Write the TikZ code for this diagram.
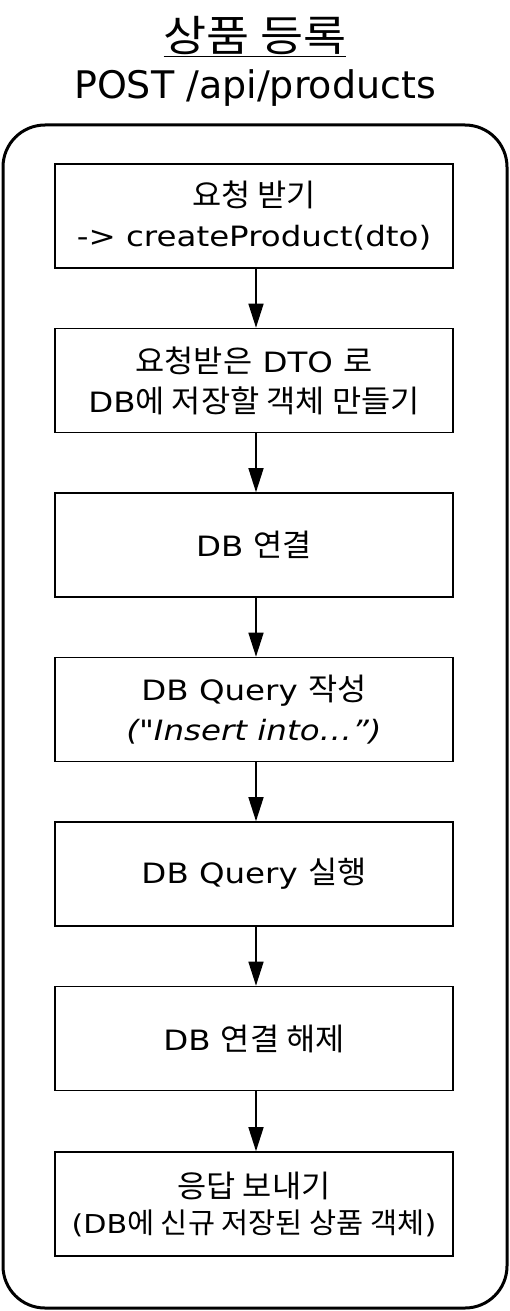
\documentclass[tikz,border=0pt]{standalone}
\usepackage{fontspec}
\setmainfont{DejaVu Sans}
\newfontfamily\wide[FakeStretch=1.16]{DejaVu Sans}
\newfontfamily\kr[Scale=1.1,FakeStretch=1.03]{Noto Sans CJK KR}
\newfontfamily\krt[Scale=1.12,FakeStretch=1.1]{Noto Sans CJK KR}
\usetikzlibrary{arrows.meta}
\tikzset{
  stepbox/.style={draw, line width=1.6pt, minimum width=398pt, minimum height=104pt, align=center, inner sep=0pt,
    font=\wide\fontsize{28}{40}\selectfont},
  flow/.style={line width=1.5pt, -{Triangle[length=24pt,width=15pt]}},
}
\begin{document}
\begin{tikzpicture}[x=1pt,y=-1pt]
\useasboundingbox (0,0) rectangle (510,1311);
\node[font=\fontsize{38}{40}\selectfont] (title) at (255,37) {\underline{\krt 상품 등록}};
\node[font=\fontsize{38}{40}\selectfont] (api) at (255,88) {POST /api/products};
\draw[line width=3pt, rounded corners=42pt] (3,125) rectangle (507,1308);
\node[stepbox] (b1) at (254,216) {{\kr 요청 받기}\\-> createProduct(dto)};
\node[stepbox] (b2) at (254,380.5) {{\kr 요청받은} DTO {\kr 로}\\DB{\kr 에 저장할 객체 만들기}};
\node[stepbox] (b3) at (254,545) {DB {\kr 연결}};
\node[stepbox] (b4) at (254,709.5) {DB Query {\kr 작성}\\\textit{(\symbol{34}Insert into…”)}};
\node[stepbox] (b5) at (254,874) {DB Query {\kr 실행}};
\node[stepbox] (b6) at (254,1038.5) {DB {\kr 연결 해제}};
\node[stepbox, font=\wide\fontsize{28}{36}\selectfont] (b7) at (254,1204) {{\kr 응답 보내기}\\{\fontsize{26}{36}\selectfont(DB{\kr 에 신규 저장된 상품 객체})}};
\foreach \a/\b in {b1/b2,b2/b3,b3/b4,b4/b5,b5/b6,b6/b7}
  \draw[flow] ([xshift=2pt]\a.south) -- ([xshift=2pt]\b.north);
\end{tikzpicture}
\end{document}
